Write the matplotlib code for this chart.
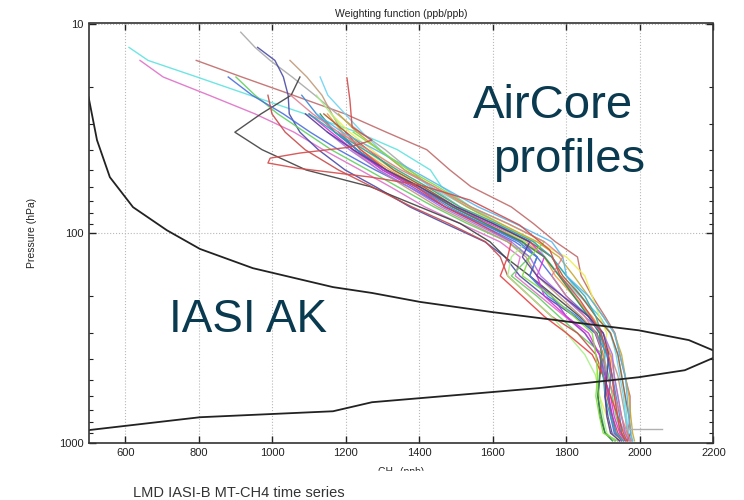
import numpy as np
import matplotlib.pyplot as plt
from matplotlib.patches import Rectangle

nan = np.nan

# pressure levels (hPa) shared by the AirCore profiles
pres = [11, 13, 15, 18, 22, 27, 33, 40, 50, 60, 75, 90, 110, 130, 160, 200,
        250, 300, 380, 480, 600, 750, 900, 980]

# CH4 (ppb) of each AirCore profile on these levels
cyan_a = [nan, 610, 662, 795, 939, 1089, 1231, 1340, 1430, 1460, 1540, 1620, 1714, 1741, 1782, 1836, 1891, 1918, 1940, 1951, 1959, 1964, 1967, 1973]
pink = [nan, nan, 640, 703, 828, 953, 1059, 1138, 1239, 1320, 1415, 1511, 1619, 1674, 1661, 1728, 1796, 1850, 1891, 1905, 1913, 1924, 1932, 1940]
red_long = [nan, nan, 793, 917, 1057, 1198, 1310, 1420, 1483, 1540, 1650, 1710, 1770, 1830, 1840, 1870, 1905, 1932, 1945, 1959, 1973, 1973, 1967, 1978]
gray_light = [914, 953, 994, 1054, 1116, 1176, 1239, 1307, 1374, 1429, 1511, 1579, 1673, 1741, 1782, 1823, 1864, 1891, 1913, 1924, 1932, 1940, 1959, 1973]
navy = [nan, 960, 1007, 1030, 1043, 1046, 1075, 1125, 1198, 1280, 1374, 1470, 1578, 1633, 1673, 1741, 1823, 1878, 1899, 1908, 1905, 1913, 1924, 1945]
black = [nan, nan, nan, 1075, 1051, 969, 898, 972, 1092, 1266, 1401, 1511, 1592, 1633, 1700, 1768, 1836, 1883, 1899, 1891, 1886, 1891, 1905, 1932]
green = [nan, nan, nan, 901, 953, 1015, 1089, 1160, 1260, 1340, 1440, 1530, 1640, 1700, 1650, 1720, 1780, 1830, 1900, 1915, 1925, 1935, 1950, 1965]
blue = [nan, nan, nan, 880, 945, 1030, 1103, 1180, 1280, 1370, 1470, 1560, 1660, 1720, 1760, 1800, 1860, 1890, 1910, 1920, 1915, 1920, 1930, 1950]
tan = [nan, nan, 1048, 1094, 1135, 1162, 1190, 1217, 1290, 1360, 1450, 1540, 1640, 1690, 1720, 1780, 1840, 1880, 1920, 1940, 1950, 1960, 1965, 1975]
cyan_b = [nan, nan, nan, 1130, 1151, 1198, 1244, 1293, 1360, 1430, 1530, 1610, 1700, 1760, 1800, 1840, 1890, 1920, 1935, 1945, 1955, 1960, 1970, 1980]
red_2 = [nan, nan, nan, nan, 988, 999, 1035, 1089, 1180, 1270, 1380, 1480, 1580, 1620, 1640, 1700, 1760, 1830, 1880, 1900, 1910, 1925, 1940, 1955]
orange = [nan, nan, nan, nan, nan, 1150, 1190, 1240, 1320, 1400, 1490, 1580, 1690, 1740, 1770, 1820, 1870, 1900, 1920, 1930, 1940, 1950, 1960, 1970]
yellow = [nan, nan, nan, nan, nan, 1160, 1210, 1270, 1340, 1420, 1510, 1620, 1720, 1800, 1850, 1870, 1890, 1910, 1900, 1880, 1890, 1910, 1920, 1950]
purple = [nan, nan, nan, nan, nan, nan, 1180, 1230, 1300, 1380, 1470, 1570, 1680, 1720, 1700, 1760, 1800, 1850, 1890, 1905, 1915, 1925, 1935, 1950]
magenta = [nan, nan, nan, nan, nan, 1100, 1160, 1220, 1300, 1390, 1490, 1590, 1700, 1740, 1720, 1740, 1800, 1860, 1890, 1900, 1920, 1930, 1945, 1960]
light_green = [nan, nan, nan, nan, 1120, 1160, 1200, 1250, 1330, 1410, 1500, 1600, 1690, 1650, 1640, 1700, 1760, 1800, 1850, 1880, 1890, 1900, 1910, 1930]
dark_green = [nan, nan, nan, nan, nan, 1130, 1170, 1230, 1310, 1400, 1490, 1580, 1680, 1740, 1780, 1820, 1860, 1890, 1895, 1890, 1885, 1895, 1905, 1925]
brown = [nan, nan, nan, nan, nan, 1140, 1200, 1260, 1330, 1410, 1500, 1600, 1700, 1760, 1790, 1840, 1880, 1920, 1940, 1950, 1960, 1970, 1975, 1965]
blue_2 = [nan, nan, nan, nan, 1080, 1120, 1170, 1230, 1310, 1390, 1480, 1570, 1670, 1720, 1700, 1750, 1830, 1880, 1910, 1925, 1935, 1945, 1950, 1960]
red_3 = [nan, nan, nan, nan, nan, nan, 1200, 1240, 1310, 1390, 1470, 1560, 1650, 1640, 1620, 1680, 1740, 1800, 1870, 1900, 1920, 1940, 1955, 1965]
teal = [nan, nan, nan, nan, nan, 1100, 1170, 1250, 1340, 1420, 1510, 1610, 1710, 1760, 1800, 1850, 1880, 1895, 1905, 1900, 1905, 1920, 1935, 1955]
violet = [nan, nan, nan, nan, nan, nan, 1150, 1210, 1290, 1370, 1460, 1550, 1650, 1700, 1730, 1790, 1850, 1900, 1925, 1930, 1940, 1950, 1960, 1970]
olive = [nan, nan, nan, nan, nan, 1180, 1230, 1290, 1360, 1440, 1530, 1620, 1720, 1780, 1820, 1860, 1900, 1930, 1950, 1960, 1970, 1975, 1980, 1985]
sky = [nan, nan, nan, nan, nan, 1120, 1190, 1280, 1380, 1460, 1560, 1660, 1760, 1790, 1800, 1860, 1900, 1930, 1945, 1960, 1965, 1970, 1975, 1980]
lime = [nan, nan, nan, nan, nan, nan, 1220, 1290, 1370, 1450, 1540, 1640, 1740, 1700, 1680, 1760, 1820, 1870, 1880, 1885, 1880, 1890, 1900, 1940]
rose = [nan, nan, nan, nan, 1050, 1110, 1180, 1260, 1350, 1440, 1540, 1640, 1740, 1790, 1760, 1800, 1850, 1880, 1900, 1910, 1930, 1950, 1965, 1975]
indigo = [nan, nan, nan, nan, nan, 1090, 1150, 1220, 1310, 1400, 1500, 1600, 1700, 1680, 1720, 1790, 1860, 1900, 1915, 1910, 1905, 1910, 1920, 1945]

# red profile with a loop near 40-50 hPa, own levels
red_loop_ch4 = [1203, 1211, 1217, 1271, 1211, 1075, 994, 988, 1067, 1176, 1266, 1402, 1538, 1673, 1755, 1782, 1837, 1891, 1918, 1932, 1945, 1959]
red_loop_p = [18.2, 23.2, 31.2, 36.0, 38.9, 41.5, 43.9, 46.3, 49.0, 51.7, 54.0, 59.0, 69.6, 91.6, 120.5, 158.7, 208.8, 290, 404, 627, 871, 973]

# short grey segment near the surface
spike_ch4 = [1960, 2060]
spike_p = [862, 862]

# IASI averaging kernel, drawn in the CH4 frame
ak_ch4 = [470, 500, 523, 558, 621, 713, 803, 947, 1165, 1271, 1402, 1597, 1815, 1997, 2133, 2198, 2215,
          2198, 2122, 1997, 1725, 1271, 1165, 803, 500, 470]
ak_p = [19, 22.4, 36.0, 54.1, 75.2, 96.9, 119, 147, 181, 193, 213, 238, 266, 291, 324, 362, 378,
        395, 451, 487, 549, 641, 708, 756, 871, 885]

profiles = [
    (cyan_a, '#5fe3e0'), (pink, '#e070c8'), (red_long, '#c06a6a'), (gray_light, '#a8a8a8'),
    (navy, '#4a4aa8'), (black, '#404040'), (green, '#60d060'), (blue, '#4a6ee0'),
    (tan, '#c09a78'), (cyan_b, '#6cd4f4'), (red_2, '#c84a4a'), (orange, '#f0a040'),
    (yellow, '#eeee50'), (purple, '#8a4ac8'), (magenta, '#e030e0'), (light_green, '#a8f088'),
    (dark_green, '#2e8a4a'), (brown, '#a85a2a'), (blue_2, '#3a88d8'), (red_3, '#e84040'),
    (teal, '#30a8a8'), (violet, '#a870e8'), (olive, '#c8a830'), (sky, '#58b8f0'),
    (lime, '#80e040'), (rose, '#e08090'), (indigo, '#5a3a9a'),
]

plt.rcParams['font.family'] = ['Liberation Sans', 'DejaVu Sans']

fig = plt.figure(figsize=(7.44, 5.0), dpi=100)
ax = fig.add_axes([0.119, 0.1146, 0.840, 0.8384])

for vals, col in profiles:
    ax.plot(vals, pres, color=col, lw=1.0, alpha=0.9)
ax.plot(red_loop_ch4, red_loop_p, color='#d44a4a', lw=1.0, alpha=0.9)
ax.plot(spike_ch4, spike_p, color='#b0b0b0', lw=1.0)

ax.plot(ak_ch4, ak_p, color='#222222', lw=1.3)

ax.set_yscale('log')
ax.set_xlim(500, 2200)
ax.set_ylim(1000, 10)
ax.set_xticks(range(600, 2201, 200))
ax.set_yticks([10, 100, 1000])
ax.set_yticklabels(['10', '100', '1000'])

ax.grid(True, which='major', color='#b8b8b8', linestyle=':', linewidth=0.8)
ax.tick_params(which='both', direction='in', top=True, right=True, labelsize=8, colors='#222222')
ax.tick_params(which='major', length=5, width=1)
ax.tick_params(which='minor', length=3, width=0.8)
ax.tick_params(axis='x', which='minor', bottom=False, top=False)
for s in ax.spines.values():
    s.set_linewidth(1.2)
    s.set_color('#333333')

ax.set_title('Weighting function (ppb/ppb)', fontsize=7.5, color='#222222', pad=5)
ax.set_ylabel('Pressure (hPa)', fontsize=7.5, color='#222222', labelpad=16)
ax.set_xlabel('CH₄ (ppb)', fontsize=7.5, color='#222222', labelpad=7)

# big annotations
ax.text(1763, 28.3, 'AirCore', fontsize=34, color='#0a3a50', ha='center', va='baseline')
ax.text(1807, 51.2, 'profiles', fontsize=34, color='#0a3a50', ha='center', va='baseline')
ax.text(934, 297, 'IASI AK', fontsize=33, color='#0a3a50', ha='center', va='baseline')

# lower part of the x label is hidden in the original
fig.patches.append(Rectangle((0, 0), 1, 29 / 500, transform=fig.transFigure, color='white', zorder=5))
fig.text(133 / 744, 1 - 497 / 500, 'LMD IASI-B MT-CH4 time series', fontsize=10.5,
         color='#333333', ha='left', va='baseline', zorder=6)

fig.savefig('out.png', dpi=100)
